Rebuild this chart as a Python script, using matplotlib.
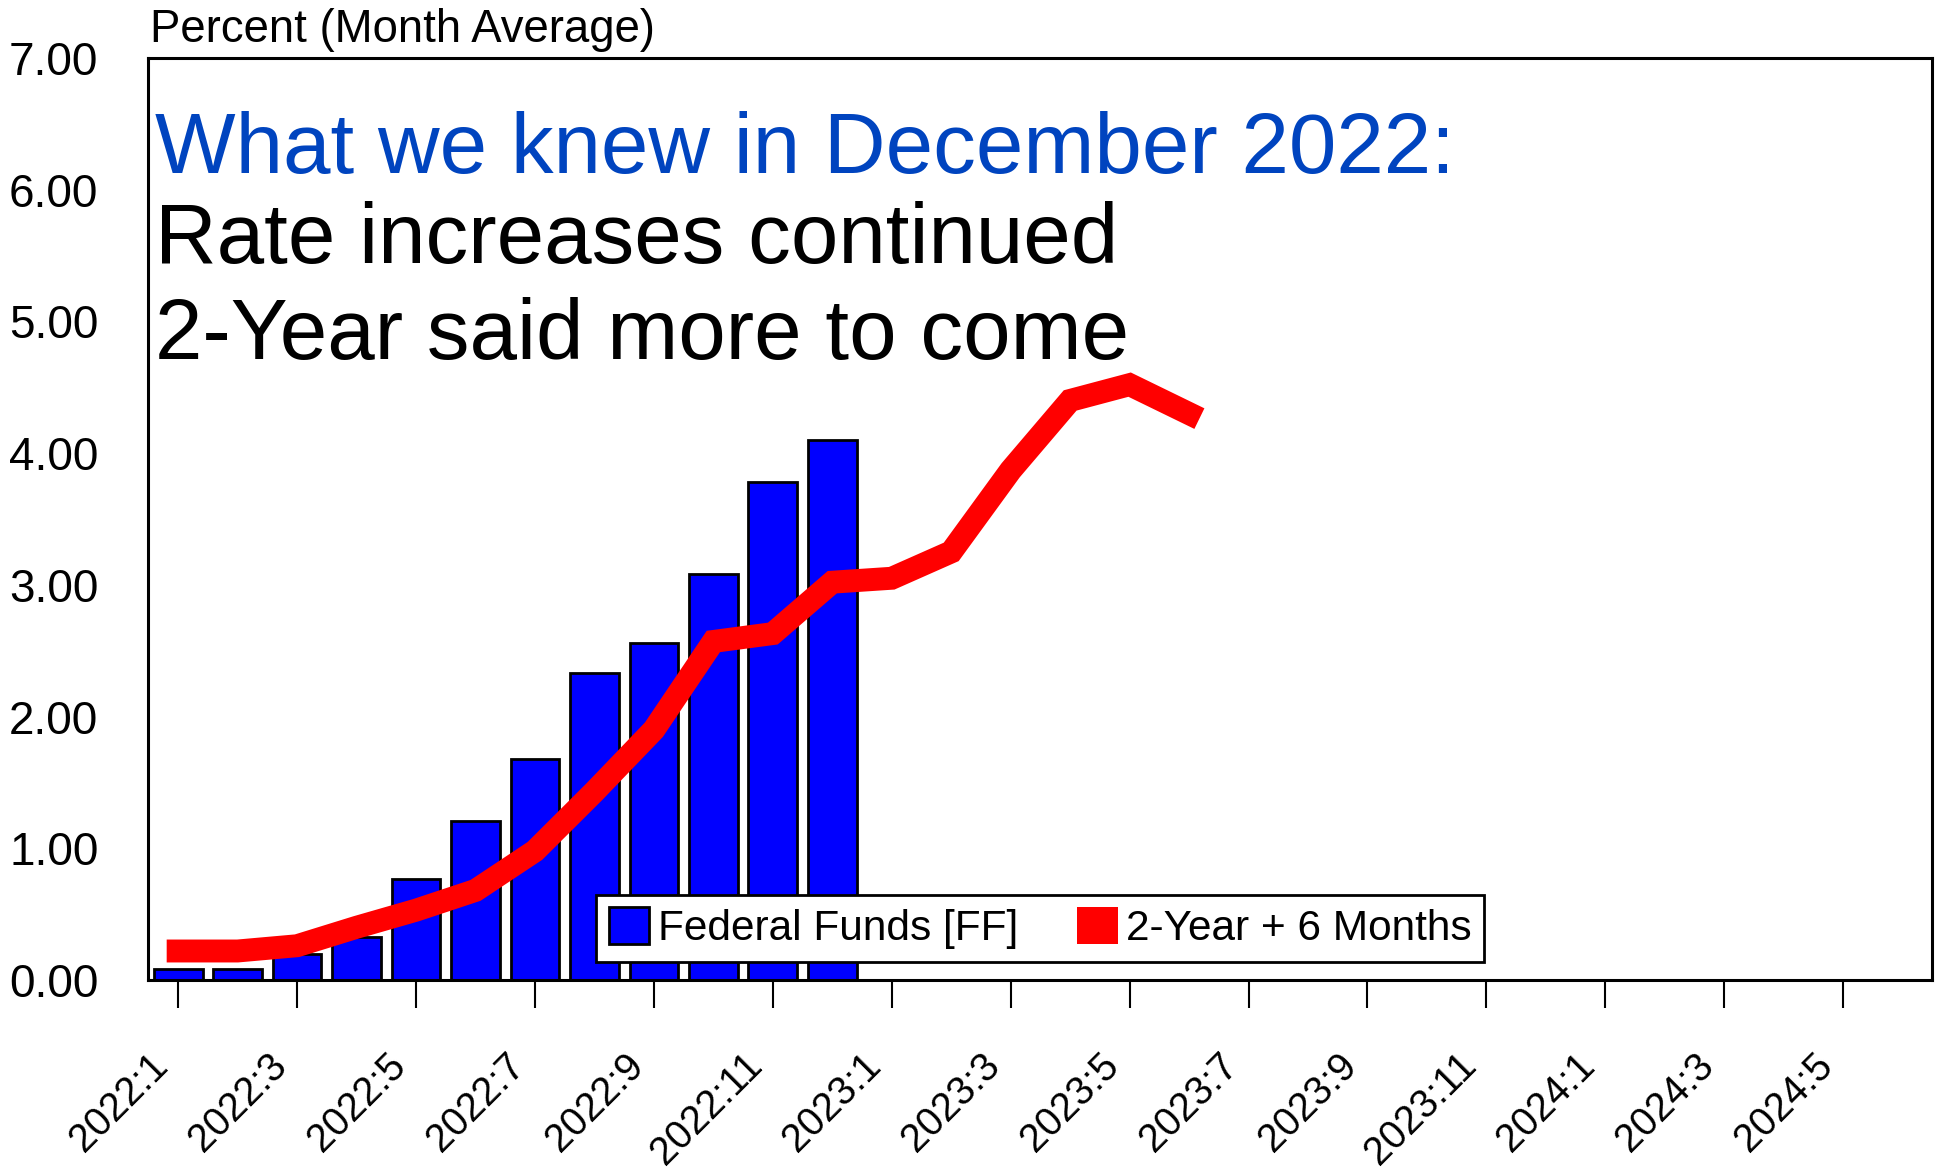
import numpy as np
import matplotlib
matplotlib.use("Agg")
import matplotlib.pyplot as plt
import matplotlib.transforms as mtransforms
from matplotlib.patches import Patch

plt.rcParams['font.family'] = ['Liberation Sans', 'DejaVu Sans']

# month axis: 2022:1 .. 2024:6
months = [f"{y}:{m}" for y in (2022, 2023, 2024) for m in range(1, 13)][:30]

# effective federal funds rate, monthly average, 2022:1 - 2022:12
ff_rate = [0.08, 0.08, 0.20, 0.33, 0.77, 1.21, 1.68, 2.33, 2.56, 3.08, 3.78, 4.10]

# 2-year treasury yield shifted forward 6 months, 2022:1 - 2023:6
two_year_shift = [0.22, 0.22, 0.26, 0.40, 0.53, 0.68, 0.98, 1.43, 1.90, 2.57,
                  2.63, 3.02, 3.05, 3.25, 3.87, 4.40, 4.52, 4.30]

tick_labels = months[::2]

fig = plt.figure(figsize=(19.4, 11.69), dpi=100)
ax = fig.add_axes([0.0765, 0.1617, 0.9196, 0.7887])

x_ff = np.arange(len(ff_rate))
x_2y = np.arange(len(two_year_shift))

ax.bar(x_ff, ff_rate, width=0.82, color='#0000FF', edgecolor='black', linewidth=2, zorder=2)
ax.plot(x_2y, two_year_shift, color='#FF0000', linewidth=16.5, solid_joinstyle='miter',
        solid_capstyle='projecting', zorder=3)

ax.set_xlim(-0.5, len(months) - 0.5)
ax.set_ylim(0, 7)
ax.set_yticks(np.arange(0, 8, 1))
ax.set_yticklabels([f"{v:.2f}" for v in np.arange(0, 8, 1)], fontsize=33)
ax.tick_params(axis='y', length=0, pad=36)

ax.set_xticks(np.arange(0, len(months), 2))
ax.set_xticklabels(tick_labels, fontsize=28.5, rotation=45, ha='right', va='top',
                   rotation_mode='anchor')
ax.tick_params(axis='x', length=20, width=1.5, pad=42, direction='out')
# nudge the rotated labels up and to the left
shift = mtransforms.ScaledTranslation(-0.30, 0.20, fig.dpi_scale_trans)
for lab in ax.get_xticklabels():
    lab.set_transform(lab.get_transform() + shift)

for s in ax.spines.values():
    s.set_linewidth(2.2)

# legend
handles = [Patch(facecolor='#0000FF', edgecolor='black', linewidth=2),
           Patch(facecolor='#FF0000', edgecolor='none')]
leg = ax.legend(handles, ['Federal Funds [FF]', '2-Year + 6 Months'], loc='center',
                bbox_to_anchor=(0.5, 0.056), ncol=2, fontsize=30.5, frameon=True,
                fancybox=False, framealpha=1, edgecolor='black', handlelength=0.95,
                handleheight=0.95, handletextpad=0.2, columnspacing=1.4,
                borderpad=0.3, borderaxespad=0)
leg.get_frame().set_linewidth(2)
leg.set_zorder(5)

# texts
fig.text(0.0775, 0.964, "Percent (Month Average)", fontsize=32.8, va='baseline', ha='left')
fig.text(0.080, 0.852, "What we knew in December 2022:", fontsize=61.5, color='#0044BF',
         va='baseline', ha='left')
fig.text(0.080, 0.7746, "Rate increases continued", fontsize=61.5, color='black',
         va='baseline', ha='left')
fig.text(0.080, 0.693, "2-Year said more to come", fontsize=61.5, color='black',
         va='baseline', ha='left')

fig.savefig("out.png", dpi=100)
